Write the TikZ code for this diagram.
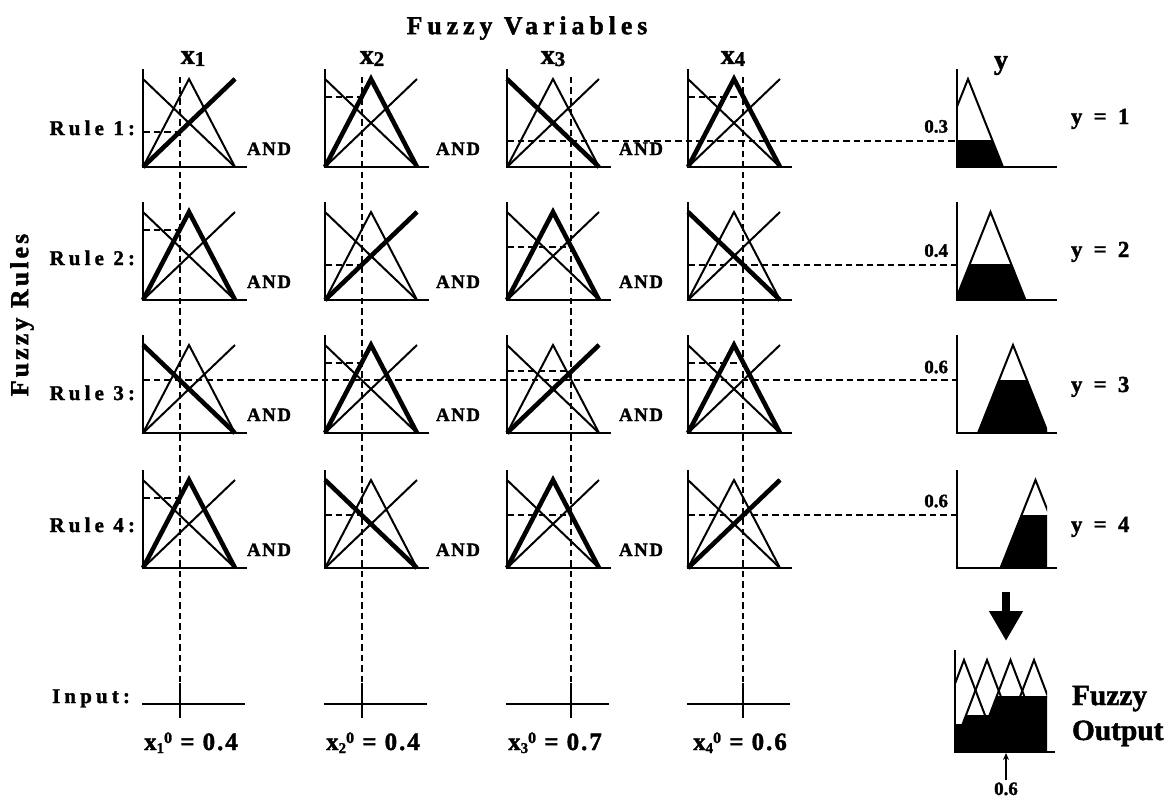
\documentclass[tikz,border=0pt]{standalone}
\usepackage{fontspec}
\usetikzlibrary{arrows.meta}
\setmainfont{Liberation Serif}
\newfontfamily\figtight{Liberation Serif}[FakeBold=1.6]
\newfontfamily\figloose{Liberation Serif}[FakeBold=1.6, LetterSpace=8]
\newfontfamily\figrule{Liberation Serif}[FakeBold=1.6, LetterSpace=20]
\newfontfamily\figside{Liberation Serif}[FakeBold=1.6, LetterSpace=12]
\newfontfamily\figtitle{Liberation Serif}[FakeBold=1.6, LetterSpace=19]
\newfontfamily\figout{Liberation Serif}[FakeBold=1.6, LetterSpace=24]

\tikzset{
  every node/.style={inner sep=0pt, outer sep=0pt},
  axisline/.style={line width=2.8bp},
  mfthin/.style={line width=2bp, line join=miter},
  mfthick/.style={line width=4.6bp, line join=miter},
  guide/.style={line width=2bp, dash pattern=on 6.5bp off 4bp},
  tickline/.style={line width=2.8bp},
  titlelbl/.style={font=\figtitle\bfseries\fontsize{26}{30}\selectfont},
  sidelbl/.style={font=\figside\bfseries\fontsize{26}{30}\selectfont},
  rulelbl/.style={font=\figrule\bfseries\fontsize{21}{24}\selectfont, anchor=base east},
  andlbl/.style={font=\figloose\bfseries\fontsize{19}{22}\selectfont, anchor=base},
  varlbl/.style={font=\figtight\bfseries\fontsize{28}{30}\selectfont, anchor=base},
  inlbl/.style={font=\figloose\bfseries\fontsize{25}{28}\selectfont, anchor=base},
  lvllbl/.style={font=\figtight\bfseries\fontsize{19}{22}\selectfont, anchor=base east},
  ylbl/.style={font=\figout\bfseries\fontsize{23}{26}\selectfont, anchor=base west},
  outlbl/.style={font=\figtight\bfseries\fontsize{29.5}{32}\selectfont, anchor=base west},
}

% antecedent panel: low, medium, high membership functions, one highlighted
\newcommand{\mfpanel}[4]{% #1 name, #2 axis x, #3 baseline y, #4 highlighted term (1 low, 2 medium, 3 high)
  \coordinate (#1) at (#2,#3);
  \begin{scope}[shift={(#1)}]
    \draw[mfthin] (0,-88) -- (92,0);
    \draw[mfthin] (0,0) -- (46,-88) -- (92,0);
    \draw[mfthin] (0,0) -- (92,-88);
    \ifcase#4\or
      \draw[mfthick] (0,-88) -- (92,0);\or
      \draw[mfthick] (0,0) -- (46,-88) -- (92,0);\or
      \draw[mfthick] (0,0) -- (92,-88);\fi
    \draw[axisline] (0,-98) -- (0,0) -- (104,0);
  \end{scope}}

% dashed membership degree
\newcommand{\degree}[3]{% panel, degree, input value
  \draw[guide] (#1) ++(0,{-88*#2}) -- ++({92*#3},0);}

% consequent term clipped at its firing strength
\newcommand{\yterm}[5]{% origin, universe width, peak height, centre, cut level
  \begin{scope}[shift={(#1)}]
    \begin{scope}
      \clip (0,{-#3*#5}) rectangle (#2,0);
      \fill ({#4-35},0) -- (#4,-#3) -- ({#4+35},0) -- cycle;
    \end{scope}
    \begin{scope}
      \clip (0,{-#3-6}) rectangle (#2,4);
      \draw[mfthin] ({#4-35},0) -- (#4,-#3) -- ({#4+35},0);
    \end{scope}
  \end{scope}}

\newcommand{\yaxis}[3]{% origin, axis height, baseline length
  \draw[axisline] (#1) ++(0,-#2) -- (#1) -- ++(#3,0);}

\begin{document}
\begin{tikzpicture}[x=1bp,y=-1bp]
\useasboundingbox (0,0) rectangle (1172,797);

% ---- headings ----
\node[titlelbl] (title) at (527,28) {Fuzzy Variables};
\node[sidelbl, rotate=90] (rules) at (22,315) {Fuzzy Rules};
\node[varlbl] (lx1) at (193,64) {x\raisebox{-2bp}{\fontsize{21}{21}\selectfont 1}};
\node[varlbl] (lx2) at (372,64) {x\raisebox{-2bp}{\fontsize{21}{21}\selectfont 2}};
\node[varlbl] (lx3) at (553,64) {x\raisebox{-2bp}{\fontsize{21}{21}\selectfont 3}};
\node[varlbl] (lx4) at (733,64) {x\raisebox{-2bp}{\fontsize{21}{21}\selectfont 4}};
\node[varlbl] (ly) at (1001,69) {y};

\node[rulelbl] (r1) at (135,135) {Rule 1:};
\node[rulelbl] (r2) at (135,265) {Rule 2:};
\node[rulelbl] (r3) at (135,400) {Rule 3:};
\node[rulelbl] (r4) at (135,532) {Rule 4:};
\node[rulelbl] (rin) at (130,703) {Input:};

% ---- crisp inputs ----
\coordinate (in1) at (180,683);
\coordinate (in2) at (362,683);
\coordinate (in3) at (571,683);
\coordinate (in4) at (743,683);
\foreach \i in {1,2,3,4}{
  \draw[guide] (in\i |- 0,77) -- (in\i);
  \draw[tickline] (in\i) -- ++(0,35);
}
\draw[axisline] (142,704) -- (245,704);
\draw[axisline] (324,704) -- (427,704);
\draw[axisline] (506,704) -- (609,704);
\draw[axisline] (687,704) -- (790,704);

\node[inlbl] (v1) at (191,750) {x\raisebox{-3bp}{\fontsize{15}{15}\selectfont 1}\raisebox{7bp}{\fontsize{16}{16}\selectfont 0} = 0.4};
\node[inlbl] (v2) at (373,750) {x\raisebox{-3bp}{\fontsize{15}{15}\selectfont 2}\raisebox{7bp}{\fontsize{16}{16}\selectfont 0} = 0.4};
\node[inlbl] (v3) at (555,750) {x\raisebox{-3bp}{\fontsize{15}{15}\selectfont 3}\raisebox{7bp}{\fontsize{16}{16}\selectfont 0} = 0.7};
\node[inlbl] (v4) at (740,750) {x\raisebox{-3bp}{\fontsize{15}{15}\selectfont 4}\raisebox{7bp}{\fontsize{16}{16}\selectfont 0} = 0.6};

% ---- antecedent panels ----
\mfpanel{p11}{143}{167}{3}\mfpanel{p12}{325}{167}{2}\mfpanel{p13}{507}{167}{1}\mfpanel{p14}{688}{167}{2}
\mfpanel{p21}{143}{300}{2}\mfpanel{p22}{325}{300}{3}\mfpanel{p23}{507}{300}{2}\mfpanel{p24}{688}{300}{1}
\mfpanel{p31}{143}{433}{1}\mfpanel{p32}{325}{433}{2}\mfpanel{p33}{507}{433}{3}\mfpanel{p34}{688}{433}{2}
\mfpanel{p41}{143}{568}{2}\mfpanel{p42}{325}{568}{1}\mfpanel{p43}{507}{568}{2}\mfpanel{p44}{688}{568}{3}

\foreach \r/\yb in {1/155,2/288,3/421,4/556}{
  \node[andlbl] (and\r a) at (269,\yb) {AND};
  \node[andlbl] (and\r b) at (458,\yb) {AND};
  \node[andlbl] (and\r c) at (641,\yb) {AND};
}

% membership degrees
\degree{p11}{0.4}{0.4}\degree{p12}{0.8}{0.4}\degree{p14}{0.8}{0.6}
\degree{p21}{0.8}{0.4}\degree{p22}{0.4}{0.4}\degree{p23}{0.6}{0.7}
\degree{p32}{0.8}{0.4}\degree{p33}{0.7}{0.7}\degree{p34}{0.8}{0.6}
\degree{p41}{0.8}{0.4}\degree{p42}{0.6}{0.4}\degree{p43}{0.6}{0.7}

% ---- consequents ----
\coordinate (y1) at (957,167);
\coordinate (y2) at (957,300);
\coordinate (y3) at (957,433);
\coordinate (y4) at (957,568);
\coordinate (c1) at (957,{167-88*0.3});
\coordinate (c2) at (957,{300-88*0.4});
\coordinate (c3) at (957,{433-88*0.6});
\coordinate (c4) at (957,{568-88*0.6});

% firing strengths carried to the consequents
\draw[guide] (c1 -| p13) -- (c1);
\draw[guide] (c2 -| p24) -- (c2);
\draw[guide] (c3 -| p31) -- (c3);
\draw[guide] (c4 -| p44) -- (c4);

\yterm{y1}{90}{88}{11}{0.3}\yaxis{y1}{98}{100}
\yterm{y2}{90}{88}{33.5}{0.4}\yaxis{y2}{98}{100}
\yterm{y3}{90}{88}{56}{0.6}\yaxis{y3}{98}{100}
\yterm{y4}{90}{88}{78.5}{0.6}\yaxis{y4}{98}{100}

\node[lvllbl] (d1) at (948,{167-88*0.3-8}) {0.3};
\node[lvllbl] (d2) at (948,{300-88*0.4-8}) {0.4};
\node[lvllbl] (d3) at (948,{433-88*0.6-7}) {0.6};
\node[lvllbl] (d4) at (948,{568-88*0.6-8}) {0.6};

\node[ylbl] (o1) at (1071,124) {y = 1};
\node[ylbl] (o2) at (1071,257) {y = 2};
\node[ylbl] (o3) at (1071,392) {y = 3};
\node[ylbl] (o4) at (1071,532) {y = 4};

% ---- aggregated output ----
\coordinate (agg) at (955,752);
\yterm{agg}{92}{92}{9}{0.3}
\yterm{agg}{92}{92}{32}{0.4}
\yterm{agg}{92}{92}{55.5}{0.6}
\yterm{agg}{92}{92}{79}{0.6}
\yaxis{agg}{102}{100}

\coordinate (arrtop) at (1006,592);
\coordinate (arrtip) at (1006,641);
\draw[line width=8bp, -{Triangle[length=30bp,width=32bp]}] (arrtop) -- (arrtip);

\node[outlbl] (fz) at (1072,705) {Fuzzy};
\node[outlbl] (fo) at (1072,740) {Output};

\node[lvllbl, anchor=base] (crisp) at (1006,795) {0.6};
\draw[line width=1.6bp, -{Stealth[length=7bp,width=6bp]}] (crisp.north) ++(0,-2) -- (1006,753);

\end{tikzpicture}
\end{document}
